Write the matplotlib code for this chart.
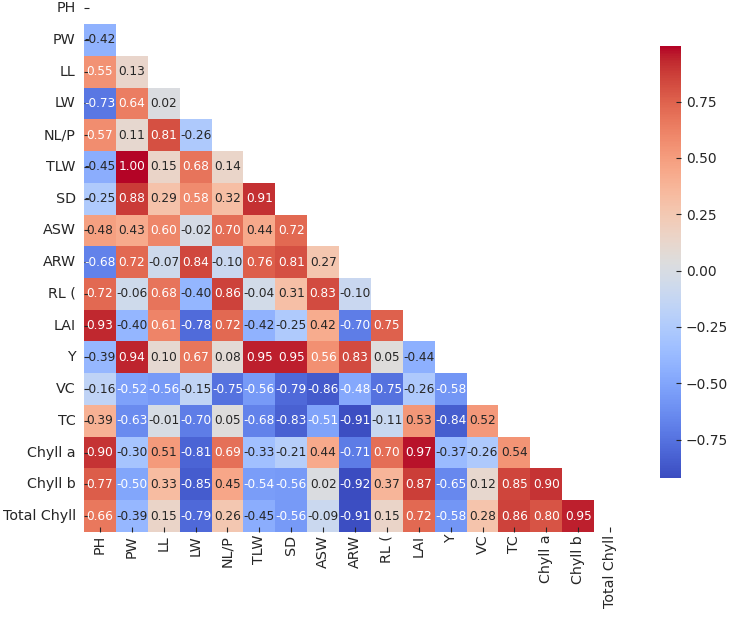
import numpy as np
import pandas as pd
import matplotlib
matplotlib.use("Agg")
import matplotlib.pyplot as plt
import seaborn as sns

variables = ["PH", "PW", "LL", "LW", "NL/P", "TLW", "SD", "ASW", "ARW",
             "RL (", "LAI", "Y", "VC", "TC", "Chyll a", "Chyll b", "Total Chyll"]

# triangulo inferior: cada fila tiene las correlaciones con las variables anteriores
filas = [
    [],
    [-0.42],
    [0.55, 0.13],
    [-0.73, 0.64, 0.02],
    [0.57, 0.11, 0.81, -0.26],
    [-0.45, 0.996, 0.15, 0.68, 0.14],
    [-0.25, 0.88, 0.29, 0.58, 0.32, 0.91],
    [0.48, 0.43, 0.60, -0.02, 0.70, 0.44, 0.72],
    [-0.68, 0.72, -0.07, 0.84, -0.10, 0.76, 0.81, 0.27],
    [0.72, -0.06, 0.68, -0.40, 0.86, -0.04, 0.31, 0.83, -0.10],
    [0.93, -0.40, 0.61, -0.78, 0.72, -0.42, -0.25, 0.42, -0.70, 0.75],
    [-0.39, 0.94, 0.10, 0.67, 0.08, 0.95, 0.95, 0.56, 0.83, 0.05, -0.44],
    [-0.16, -0.52, -0.56, -0.15, -0.75, -0.56, -0.79, -0.86, -0.48, -0.75, -0.26, -0.58],
    [0.39, -0.63, -0.01, -0.70, 0.05, -0.68, -0.83, -0.51, -0.91, -0.11, 0.53, -0.84, 0.52],
    [0.90, -0.30, 0.51, -0.81, 0.69, -0.33, -0.21, 0.44, -0.71, 0.70, 0.97, -0.37, -0.26, 0.54],
    [0.77, -0.50, 0.33, -0.85, 0.45, -0.54, -0.56, 0.02, -0.92, 0.37, 0.87, -0.65, 0.12, 0.85, 0.90],
    [0.66, -0.39, 0.15, -0.79, 0.26, -0.45, -0.56, -0.09, -0.91, 0.15, 0.72, -0.58, 0.28, 0.86, 0.80, 0.95],
]

n = len(variables)
corr = np.eye(n)
for i, fila in enumerate(filas):
    for j, v in enumerate(fila):
        corr[i, j] = v
        corr[j, i] = v
df = pd.DataFrame(corr, index=variables, columns=variables)
mask = np.triu(np.ones((n, n), dtype=bool))

plt.rcParams["text.color"] = ".15"
plt.rcParams["xtick.color"] = ".15"
plt.rcParams["ytick.color"] = ".15"

fig = plt.figure(figsize=(7.31, 6.18), dpi=100)
ax = fig.add_axes([0.1149, 0.1392, 0.7415, 0.8733])
cax = fig.add_axes([0.9029, 0.2265, 0.0287, 0.699])

sns.heatmap(df, mask=mask, cmap="coolwarm", annot=True, fmt=".2f",
            annot_kws={"size": 8.7}, xticklabels=variables, yticklabels=variables,
            ax=ax, cbar_ax=cax)

ax.tick_params(axis="both", direction="in", length=3.5, labelsize=10.3)
ax.tick_params(axis="x", pad=2, labelrotation=90)
ax.tick_params(axis="y", pad=6, labelrotation=0)
cax.tick_params(direction="in", length=3.5, labelsize=10)

fig.savefig("out.png", dpi=100)
